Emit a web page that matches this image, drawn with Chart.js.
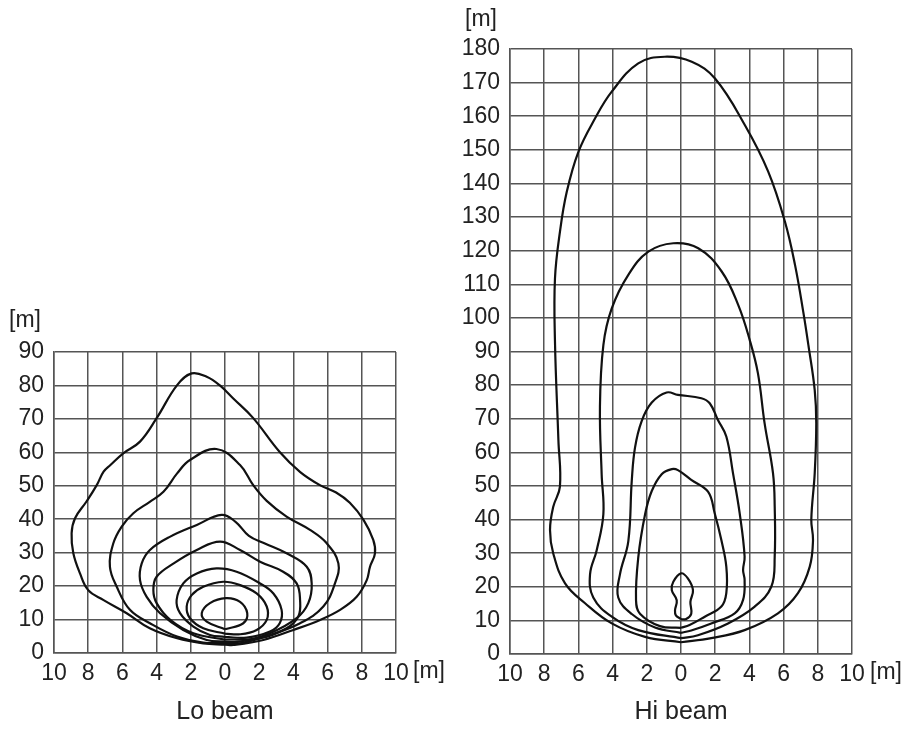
<!DOCTYPE html>
<html>
<head>
<meta charset="utf-8">
<script src="https://cdn.jsdelivr.net/npm/chart.js@4"></script>
<style>
  body { margin: 0; background: #fff; width: 907px; height: 731px; position: relative; overflow: hidden; }
  canvas { position: absolute; }
  #loBeam { left: 0px; top: 290px; }
  #hiBeam { left: 455px; top: 0px; }
</style>
</head>
<body>
<canvas id="loBeam" width="450" height="441"></canvas>
<canvas id="hiBeam" width="452" height="731"></canvas>
<script>
// 축 눈금 / 라벨
const xTicks = [-10, -8, -6, -4, -2, 0, 2, 4, 6, 8, 10];
const loYMax = 90;
const hiYMax = 180;
const unitLabel = '[m]';
const titles = ['Lo beam', 'Hi beam'];

// Lo beam 등조도 곡선 (x [m], y [m])
const loCurve1 = [[0,2.5],[-1.27,2.9],[-2.8,4.4],[-4.4,7.4],[-5.75,11.9],[-7.1,15.8],[-8.0,18.8],[-8.48,23.8],[-8.87,29.8],[-8.97,35.8],[-8.77,40.3],[-8.1,45.3],[-7.5,50.2],[-7.1,54.2],[-6.7,56.2],[-5.95,59.7],[-4.97,63.2],[-4.0,70.2],[-2.8,80.1],[-1.95,83.6],[-1.07,82.6],[-0.3,80],[0.5,76],[1.64,70.3],[3.2,60.1],[4.4,54.1],[5.55,50.2],[6.5,48],[7.3,44.9],[8.1,39.8],[8.67,33.8],[8.77,29.8],[8.48,25.8],[8.29,21.8],[7.7,16.8],[6.73,12.9],[5.56,9.9],[4.0,6.9],[2.24,3.9],[0.49,2.4],[0,2.5]];
const loCurve2 = [[0,3.0],[-1.27,3.1],[-2.8,4.9],[-4.39,8.9],[-5.56,12.9],[-6.33,19.8],[-6.73,25.8],[-6.53,32.8],[-6.04,37.8],[-5.36,41.8],[-4.4,45.2],[-3.6,48.2],[-2.8,53.7],[-2.05,57.7],[-0.5,61],[0.88,56.2],[1.65,50.2],[2.44,45.5],[3.6,40.8],[4.97,36.8],[5.95,32.8],[6.63,26.8],[6.43,20.8],[5.75,13.9],[4.39,8.9],[2.63,5.4],[0.88,2.9],[0,3.0]];
const loCurve3 = [[0,3.4],[-1.07,3.9],[-2.44,6.9],[-3.8,11.9],[-4.58,16.8],[-4.97,21.8],[-4.87,26.8],[-4.39,30.8],[-3.2,34.8],[-1.65,38.3],[-0.2,41.3],[0.6,39.3],[1.4,35],[2.3,32.8],[3.6,29.8],[4.78,25.8],[5.07,20.8],[4.87,14.9],[4.19,10.4],[2.63,5.9],[0.88,3.4],[0,3.4]];
const loCurve4 = [[0,4.0],[-1.85,5.9],[-3.2,9.9],[-4.0,14.9],[-4.19,18.8],[-4.0,22.8],[-3.0,26.8],[-1.65,30.8],[-0.29,33.3],[0.88,30.8],[2.05,27.3],[3.4,24.3],[4.19,20.8],[4.39,15.8],[4.29,10.9],[3.6,7.4],[2.05,4.4],[0,4.0]];
const loCurve5 = [[0,4.8],[-0.88,5.4],[-1.85,7.9],[-2.63,11.9],[-2.83,15.8],[-2.44,20.8],[-1.65,23.8],[-0.5,25.3],[0.68,24.3],[2.05,20.8],[2.83,17.8],[3.31,12.9],[3.2,8.9],[2.63,6.4],[1.27,4.6],[0,4.8]];
const loCurve6 = [[0,5.8],[-1.27,7.4],[-2.05,10.4],[-2.24,13.9],[-1.95,17.3],[-1.27,19.8],[-0.1,21.3],[0.88,20.3],[1.85,17.8],[2.44,13.9],[2.44,9.9],[1.85,6.9],[0.88,5.6],[0,5.8]];
const loCurve7 = [[0,7.1],[-1.07,9.4],[-1.36,11.9],[-0.88,14.9],[0.05,16.4],[0.88,15.3],[1.3,11.9],[1.07,8.9],[0,7.1]];

// Hi beam 등조도 곡선 (x [m], y [m])
const hiCurve1 = [[0,3.5],[-2.1,5.1],[-4.05,9.1],[-5.61,15.1],[-6.78,21],[-7.47,29.9],[-7.66,36.9],[-7.47,43.8],[-7.08,49.8],[-7.17,63.7],[-7.37,93],[-7.37,111.7],[-7.08,125.6],[-6.68,137.5],[-6.0,149.4],[-5.03,159.3],[-4.05,167.3],[-2.5,175.7],[-0.94,177.7],[0.63,176.2],[1.99,171.2],[3.74,157.3],[5.1,143.5],[6.08,128.6],[6.67,115.7],[7.15,101.8],[7.45,91.9],[7.82,78.5],[7.91,68.6],[7.82,53.8],[7.62,39.9],[7.72,33.9],[7.53,26],[6.84,18.1],[5.67,12.1],[3.72,7.1],[1.77,4.7],[0,3.5]];
const hiCurve2 = [[0,4.7],[-2.5,7.1],[-4.05,11.1],[-5.13,16.8],[-5.32,23.7],[-4.93,30.9],[-4.54,41.6],[-4.64,53.5],[-4.74,73.5],[-4.54,91.9],[-4.05,102.8],[-3.08,112.8],[-1.91,119.7],[-0.45,122.2],[1.01,120.7],[2.38,113.8],[3.35,103.8],[4.02,93.4],[4.5,83.5],[4.89,68.6],[5.38,53.8],[5.48,43.8],[5.48,29],[5.28,20],[4.31,14.1],[2.75,9.1],[0.99,5.6],[0,4.7]];
const hiCurve3 = [[0,6.3],[-1.52,7.9],[-2.88,11.9],[-3.67,16.8],[-3.57,23.7],[-3.08,33.6],[-2.88,51.5],[-2.69,61.4],[-2.3,69.3],[-1.71,74.8],[-0.84,77.8],[-0.18,77.1],[1.19,76.1],[1.68,74.6],[2.16,69.6],[2.65,64.7],[3.04,53.8],[3.43,41.9],[3.72,29],[3.63,25],[3.72,22],[3.63,16.1],[3.14,12.1],[1.77,9.1],[0.6,7.0],[0,6.3]];
const hiCurve4 = [[0,7.8],[-1.23,8.3],[-2.4,12],[-2.63,16],[-2.5,28.7],[-2.1,41.6],[-1.71,48.5],[-1.13,53.5],[-0.54,55],[-0.18,54.7],[0.6,51.8],[1.58,48.3],[1.97,41.9],[2.36,33.9],[2.65,26],[2.65,18.1],[2.36,14.1],[1.39,11.1],[0.5,8.6],[0,7.8]];
const hiCurve5 = [[0,10.4],[-0.3,11.5],[-0.35,13],[-0.25,16],[-0.54,19],[-0.45,21.5],[0,24],[0.4,22.5],[0.7,19],[0.55,15.5],[0.6,12],[0.3,10.4],[0,10.4]];

const loCurves = [loCurve1, loCurve2, loCurve3, loCurve4, loCurve5, loCurve6, loCurve7];
const hiCurves = [hiCurve1, hiCurve2, hiCurve3, hiCurve4, hiCurve5];

const fontFamily = '"Liberation Sans", Arial, sans-serif';
const gridColor = '#555';
const textColor = '#222';

// 단위 [m] 와 하단 제목을 그리는 플러그인
function labelPlugin(pos) {
    return {
        id: 'labels',
        afterDraw(chart) {
            const c = chart.ctx;
            c.save();
            c.fillStyle = textColor;
            c.textBaseline = 'middle';
            c.font = '23px ' + fontFamily;
            c.textAlign = 'left';
            c.fillText(unitLabel, pos.yUnit[0], pos.yUnit[1]);
            c.fillText(unitLabel, pos.xUnit[0], pos.xUnit[1]);
            c.textAlign = 'center';
            c.font = '25px ' + fontFamily;
            const area = chart.chartArea;
            c.fillText(pos.title, (area.left + area.right) / 2, pos.titleY);
            c.restore();
        }
    };
}

function makeChart(canvasId, curves, yMax, pad, axisW, axisH, pos) {
    return new Chart(document.getElementById(canvasId), {
        type: 'scatter',
        data: {
            datasets: curves.map(curve => ({
                data: curve.map(p => ({ x: p[0], y: p[1] })),
                showLine: true,
                borderColor: '#111',
                borderWidth: 2.2,
                pointRadius: 0,
                tension: 0.4,
                fill: false
            }))
        },
        options: {
            responsive: false,
            animation: false,
            layout: { padding: pad },
            plugins: { legend: { display: false }, tooltip: { enabled: false } },
            scales: {
                x: {
                    type: 'linear',
                    min: xTicks[0],
                    max: xTicks[xTicks.length - 1],
                    afterBuildTicks: s => { s.ticks = xTicks.map(v => ({ value: v })); },
                    afterFit: s => { s.height = axisH; },
                    grid: { color: gridColor, lineWidth: 1.5, drawTicks: false },
                    border: { color: gridColor, width: 1.5 },
                    ticks: {
                        callback: v => Math.abs(v),
                        color: textColor,
                        font: { family: fontFamily, size: 23 },
                        padding: 7,
                        maxRotation: 0,
                        autoSkip: false
                    }
                },
                y: {
                    min: 0,
                    max: yMax,
                    afterFit: s => { s.width = axisW; },
                    grid: { color: gridColor, lineWidth: 1.5, drawTicks: false },
                    border: { color: gridColor, width: 1.5 },
                    ticks: {
                        stepSize: 10,
                        color: textColor,
                        font: { family: fontFamily, size: 23 },
                        padding: 10,
                        autoSkip: false
                    }
                }
            }
        },
        plugins: [labelPlugin(pos)]
    });
}

// Lo beam (왼쪽)
makeChart('loBeam', loCurves, loYMax,
    { left: 0, right: 54, top: 62, bottom: 0 }, 54, 78,
    { yUnit: [9, 31], xUnit: [413, 382], title: titles[0], titleY: 422 });

// Hi beam (오른쪽)
makeChart('hiBeam', hiCurves, hiYMax,
    { left: 0, right: 55, top: 49, bottom: 0 }, 55, 77,
    { yUnit: [10, 20], xUnit: [415, 673], title: titles[1], titleY: 712 });
</script>
</body>
</html>
